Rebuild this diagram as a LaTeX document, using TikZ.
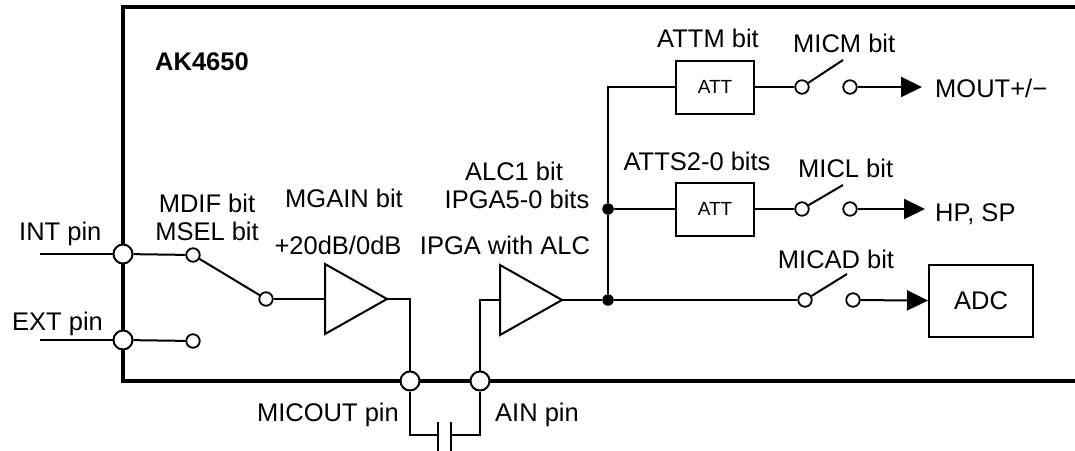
\documentclass[tikz,border=0pt]{standalone}
\usepackage{fontspec}
\setmainfont{Liberation Sans}
\usetikzlibrary{arrows.meta}
\begin{document}
\begin{tikzpicture}[x=1pt,y=-1pt,
  font=\fontsize{25.5}{28}\selectfont,
  chip/.style={line width=4.5pt, line join=miter},
  wire/.style={line width=2pt},
  pinc/.style={circle, draw, fill=white, line width=2pt, minimum size=19pt, inner sep=0pt},
  contact/.style={circle, draw, fill=white, line width=1.8pt, minimum size=13.5pt, inner sep=0pt},
  jdot/.style={circle, fill=black, minimum size=11.5pt, inner sep=0pt},
  attbox/.style={draw, line width=2pt, minimum width=78pt, minimum height=53pt, inner sep=0pt, font=\fontsize{19}{22}\selectfont},
  adcbox/.style={draw, line width=2pt, minimum width=104pt, minimum height=72pt, inner sep=0pt},
  amp/.style={line width=2pt, line join=miter, fill=white},
  lbl/.style={inner sep=0pt},
  plate/.style={line width=2.5pt},
  arr/.style={wire, -{Triangle[length=21pt,width=20pt]}}
]
\useasboundingbox (0,0) rectangle (1075,450);

% chip outline (open to the right)
\draw[chip] (1085,7) -- (123,7) -- (123,381) -- (1085,381);
\node[lbl, anchor=base west, font=\bfseries\fontsize{25.5}{28}\selectfont] (title) at (155,70) {AK4650};

% pins
\node[pinc] (int) at (123,254) {};
\node[pinc] (ext) at (123,340) {};
\node[pinc] (micout) at (410,381) {};
\node[pinc] (ain) at (480,381) {};

\coordinate (intend) at (40,254);
\coordinate (extend) at (40,340);

% input switch
\node[contact] (swa) at (193,255) {};
\node[contact] (swb) at (193,341) {};
\node[contact] (swc) at (266,299) {};
\draw[wire] (intend) -- (int);
\draw[wire] (int) -- (swa);
\draw[wire] (extend) -- (ext);
\draw[wire] (ext) -- (swb);
\draw[wire] (swa) -- (swc);

% amplifiers
\coordinate (a1in) at (325,299);
\coordinate (a1out) at (387,299);
\coordinate (a2in) at (500,300);
\coordinate (a2out) at (562,300);
\draw[amp] (325,264) -- (a1out) -- (325,334) -- cycle;
\draw[amp] (500,265) -- (a2out) -- (500,335) -- cycle;
\draw[wire] (swc) -- (a1in);
\draw[wire] (a1out) -| (micout);
\draw[wire] (ain) |- (a2in);

% capacitor
\coordinate (capl) at (438,435);
\coordinate (capr) at (451,435);
\draw[wire] (micout) |- (capl);
\draw[wire] (capr) -| (ain);
\draw[plate] (438,422) -- (438,452);
\draw[plate] (451,422) -- (451,452);

% junctions and attenuators
\node[jdot] (j2) at (608,300) {};
\node[jdot] (j1) at (608,209) {};
\node[attbox] (att1) at (715,87) {ATT};
\node[attbox] (att2) at (715,209) {ATT};
\draw[wire] (a2out) -- (j2);
\draw[wire] (j2) -- (j1);
\draw[wire] (j1) |- (att1);
\draw[wire] (j1) -- (att2);

% output switches
\node[contact] (micma) at (802,87) {};
\node[contact] (micmb) at (850,87) {};
\coordinate (micmtip) at (843,60);
\node[contact] (micla) at (802,209) {};
\node[contact] (miclb) at (850,209) {};
\coordinate (micltip) at (843,185);
\node[contact] (micada) at (805,300) {};
\node[contact] (micadb) at (853,300) {};
\coordinate (micadtip) at (847,274);
\draw[wire] (att1) -- (micma);
\draw[wire] (micma) -- (micmtip);
\draw[wire] (att2) -- (micla);
\draw[wire] (micla) -- (micltip);
\draw[wire] (j2) -- (micada);
\draw[wire] (micada) -- (micadtip);

\node[adcbox] (adc) at (981,301) {ADC};
\coordinate (moutend) at (922,87);
\coordinate (hpend) at (925,209);
\draw[arr] (micmb) -- (moutend);
\draw[arr] (miclb) -- (hpend);
\draw[arr] (micadb) -- (adc);

% labels
\node[lbl, anchor=base west] (lint) at (19,240) {INT pin};
\node[lbl, anchor=base west] (lext) at (12,330) {EXT pin};
\node[lbl, anchor=base] (lmdif) at (207,212) {MDIF bit};
\node[lbl, anchor=base] (lmsel) at (207,240) {MSEL bit};
\node[lbl, anchor=base] (lmgain) at (344,207) {MGAIN bit};
\node[lbl, anchor=base] (lgain) at (338,254) {+20dB/0dB};
\node[lbl, anchor=base] (lalc) at (514,180) {ALC1 bit};
\node[lbl, anchor=base] (lipga) at (517,208) {IPGA5-0 bits};
\node[lbl, anchor=base] (lipgaalc) at (505,254) {IPGA with ALC};
\node[lbl, anchor=base] (lattm) at (708,47) {ATTM bit};
\node[lbl, anchor=base west] (lmicm) at (793,52) {MICM bit};
\node[lbl, anchor=base] (latts) at (697,170) {ATTS2-0 bits};
\node[lbl, anchor=base west] (lmicl) at (798,177) {MICL bit};
\node[lbl, anchor=base] (lmicad) at (836,268) {MICAD bit};
\node[lbl, anchor=base west] (lmout) at (935,97) {MOUT+/−};
\node[lbl, anchor=base west] (lhp) at (935,221) {HP, SP};
\node[lbl, anchor=base east] (lmicout) at (399,421) {MICOUT pin};
\node[lbl, anchor=base west] (lain) at (495,421) {AIN pin};
\end{tikzpicture}
\end{document}
